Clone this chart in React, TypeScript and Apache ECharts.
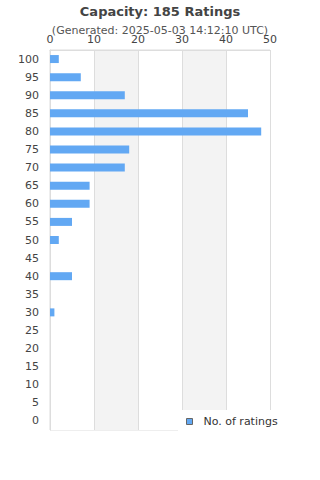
import React, { useEffect, useRef } from "react";
import * as echarts from "echarts";

const categories = ["0", "5", "10", "15", "20", "25", "30", "35", "40", "45", "50", "55", "60", "65", "70", "75", "80", "85", "90", "95", "100"];
const ratings = [0, 0, 0, 0, 0, 0, 1, 0, 5, 0, 2, 5, 9, 9, 17, 18, 48, 45, 17, 7, 2];
const xTicks = [0, 10, 20, 30, 40, 50];

export default function App() {
  const ref = useRef<HTMLDivElement>(null);
  useEffect(() => {
    document.body.style.margin = "0";
    const chart = echarts.init(ref.current!, null, { renderer: "svg" });
    const font = "DejaVu Sans";
    chart.setOption({
      animation: false,
      textStyle: { fontFamily: font },
      title: {
        text: "Capacity: 185 Ratings",
        subtext: "(Generated: 2025-05-03 14:12:10 UTC)",
        left: "center",
        top: 0,
        itemGap: 7,
        textStyle: { fontFamily: font, fontSize: 13, fontWeight: "bold", color: "#444" },
        subtextStyle: { fontFamily: font, fontSize: 11, color: "#555" },
      },
      grid: {
        left: 50, top: 50, width: 220, height: 380, containLabel: false,
        show: true, borderColor: "#ddd", borderWidth: 1, backgroundColor: "transparent",
      },
      xAxis: {
        type: "value",
        position: "top",
        min: xTicks[0],
        max: xTicks[xTicks.length - 1],
        interval: 10,
        axisLine: { show: true, lineStyle: { color: "#ddd" } },
        axisTick: { show: false },
        axisLabel: { color: "#444", fontSize: 11, margin: 5, fontFamily: font },
        splitLine: { show: true, lineStyle: { color: "#ddd" } },
        splitArea: { show: true, areaStyle: { color: ["#ffffff", "#f3f3f3"] } },
      },
      yAxis: {
        type: "category",
        data: categories,
        axisLine: { show: true, lineStyle: { color: "#ddd" } },
        axisTick: { show: false },
        axisLabel: { color: "#444", fontSize: 11, margin: 11, fontFamily: font },
        splitLine: { show: false },
      },
      legend: {
        left: 178,
        top: 410,
        backgroundColor: "#ffffff",
        padding: [6, 45, 9, 8],
        icon: "rect",
        itemWidth: 6,
        itemHeight: 6,
        itemStyle: { borderColor: "#666", borderWidth: 1 },
        textStyle: { color: "#333", fontSize: 11, fontFamily: font, padding: [0, 0, 0, 6] },
        data: ["No. of ratings"],
      },
      series: [
        {
          name: "No. of ratings",
          type: "bar",
          data: ratings,
          barWidth: 8,
          itemStyle: { color: "#62a8f3" },
        },
      ],
    });
    return () => chart.dispose();
  }, []);
  return <div ref={ref} style={{ width: 320, height: 480 }} />;
}
